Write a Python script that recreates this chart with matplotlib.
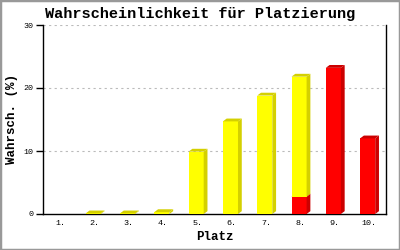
import matplotlib
matplotlib.use("Agg")
import matplotlib.pyplot as plt
from matplotlib.patches import Polygon, Rectangle
import numpy as np

places = ["1.", "2.", "3.", "4.", "5.", "6.", "7.", "8.", "9.", "10."]
red_vals = [0, 0, 0, 0, 0, 0, 0, 2.75, 23.2, 12.0]
yellow_vals = [0, 0.1, 0.1, 0.3, 9.9, 14.7, 18.8, 19.05, 0, 0]
yticks = [0, 10, 20, 30]

title = "Wahrscheinlichkeit für Platzierung"
xlabel = "Platz"
ylabel = "Wahrsch. (%)"

fig = plt.figure(figsize=(4, 2.5), dpi=100)
ax = fig.add_axes([43/400, 36/250, 343/400, 189/250])

font = "Liberation Mono"
W = 0.44
DX = 0.11
DY = 0.45
x = np.arange(len(places)) - 0.035

def draw3d(xs, bottoms, heights, front, dark):
    ax.bar(xs, heights, width=W, bottom=bottoms, color=front, edgecolor="none", zorder=3)
    for xi, b, h in zip(xs, bottoms, heights):
        if h <= 0:
            continue
        l, r = xi - W/2, xi + W/2
        t = b + h
        side = Polygon([(r, b), (r + DX, b + DY), (r + DX, t + DY), (r, t)],
                       closed=True, facecolor=dark, edgecolor="none", zorder=3)
        top = Polygon([(l, t), (r, t), (r + DX, t + DY), (l + DX, t + DY)],
                      closed=True, facecolor=dark, edgecolor="none", zorder=3)
        ax.add_patch(side)
        ax.add_patch(top)

red = np.array(red_vals)
yel = np.array(yellow_vals)
draw3d(x, np.zeros_like(red), red, "#ff0000", "#cc0000")
draw3d(x, red, yel, "#ffff00", "#d4d000")

ax.set_xlim(-0.5, len(places) - 0.5)
ax.set_ylim(0, 30)
ax.set_yticks(yticks)
ax.set_yticklabels([str(v) for v in yticks], fontsize=6, family=font)
ax.set_xticks(np.arange(len(places)))
ax.set_xticklabels(places, fontsize=6, family=font)
ax.tick_params(axis="x", length=0, pad=4)
ax.tick_params(axis="y", length=5, width=1, direction="out", pad=2)
for yv in yticks[1:]:
    ax.axhline(yv, color="#bbbbbb", linestyle=(0, (2, 3)), linewidth=0.8, zorder=1)

ax.spines["top"].set_visible(False)
for s in ["left", "bottom", "right"]:
    ax.spines[s].set_linewidth(1.0)
    ax.spines[s].set_color("black")

ax.set_xlabel(xlabel, fontsize=9, family=font, fontweight="bold", labelpad=3)
ax.set_ylabel(ylabel, fontsize=9, family=font, fontweight="bold", labelpad=4)
fig.text(0.5, 0.945, title, ha="center", va="center", fontsize=11,
         family=font, fontweight="bold")

fig.patches.append(Rectangle((0, 0), 1, 1, transform=fig.transFigure,
                             fill=False, edgecolor="#999999", linewidth=2.5))

fig.savefig("out.png", dpi=100)
